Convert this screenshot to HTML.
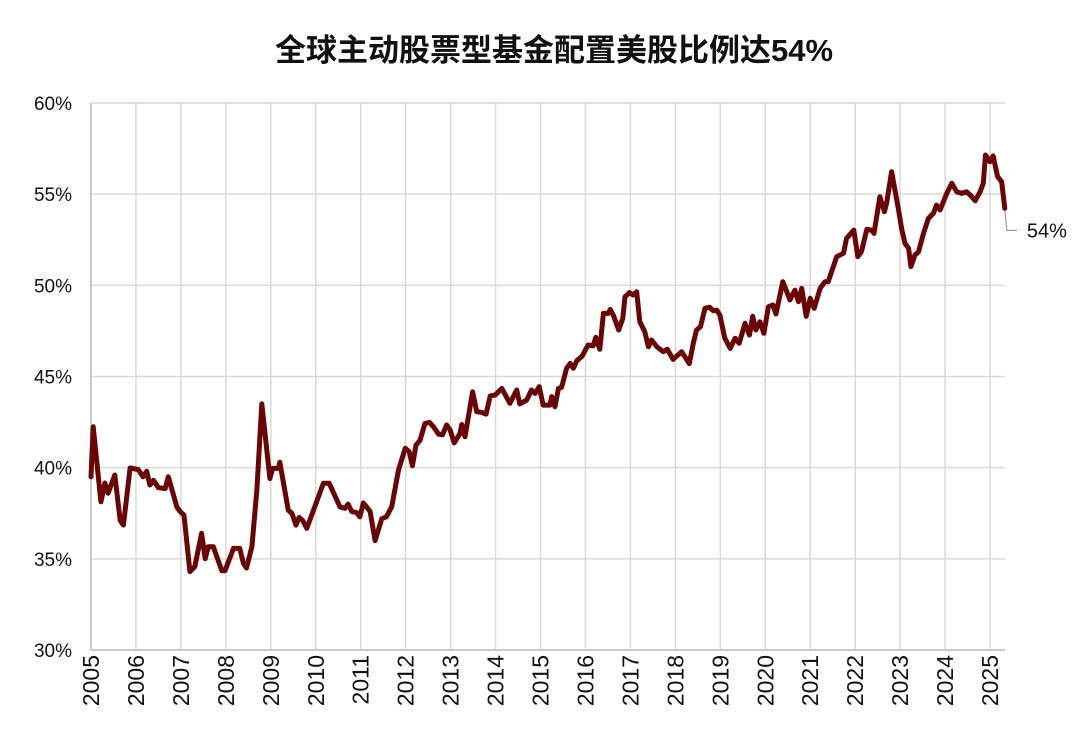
<!DOCTYPE html>
<html><head><meta charset="utf-8">
<style>
body{margin:0;background:#fff;width:1080px;height:743px;overflow:hidden;font-family:"Liberation Sans","Noto Sans CJK SC",sans-serif;}
</style></head>
<body>
<svg id="chart" width="1080" height="743" xmlns="http://www.w3.org/2000/svg">
<text x="554" y="61" text-anchor="middle" font-size="31" font-weight="bold" fill="#111" font-family="Liberation Sans, Noto Sans CJK SC, sans-serif">全球主动股票型基金配置美股比例达54%</text>
<g id="grid"></g>
<g id="axes"></g>
<g id="series"></g>
</svg>
<script>
const yTicks=[30,35,40,45,50,55,60];
const xYears=[2005,2006,2007,2008,2009,2010,2011,2012,2013,2014,2015,2016,2017,2018,2019,2020,2021,2022,2023,2024,2025];
const yearOffsets=[0,0.05,0.22,0.31,0.38,0.53,0.65,0.72,0.87,1.05,1.16,1.24,1.31,1.39,1.50,1.65,1.72,1.91,1.98,2.07,2.20,2.31,2.46,2.54,2.61,2.72,2.91,2.98,3.17,3.31,3.39,3.46,3.58,3.69,3.80,3.98,4.04,4.17,4.20,4.39,4.47,4.56,4.63,4.71,4.80,5.17,5.30,5.54,5.65,5.72,5.80,5.91,5.98,6.06,6.21,6.32,6.47,6.57,6.69,6.84,6.99,7.08,7.15,7.23,7.32,7.43,7.53,7.62,7.73,7.82,7.91,7.99,8.08,8.21,8.25,8.32,8.49,8.58,8.69,8.79,8.88,8.99,9.14,9.32,9.47,9.54,9.69,9.80,9.88,9.97,10.06,10.21,10.25,10.32,10.40,10.47,10.58,10.66,10.73,10.81,10.92,11.06,11.17,11.23,11.32,11.40,11.51,11.55,11.62,11.74,11.83,11.88,11.98,12.06,12.14,12.21,12.32,12.40,12.47,12.59,12.73,12.82,12.95,13.14,13.21,13.31,13.40,13.47,13.56,13.66,13.76,13.84,13.92,13.99,14.10,14.22,14.33,14.42,14.55,14.65,14.72,14.79,14.88,14.97,15.07,15.17,15.24,15.39,15.55,15.66,15.74,15.81,15.91,16.00,16.09,16.22,16.33,16.40,16.59,16.74,16.81,16.97,17.06,17.14,17.26,17.37,17.42,17.55,17.65,17.70,17.81,17.96,18.04,18.11,18.19,18.24,18.33,18.41,18.52,18.63,18.74,18.81,18.89,19.04,19.15,19.26,19.37,19.48,19.56,19.67,19.78,19.85,19.90,20.00,20.07,20.17,20.26,20.33];
const shares=[39.5,42.24,38.13,39.16,38.6,39.6,37.1,36.85,39.98,39.9,39.5,39.8,39.05,39.3,38.9,38.86,39.5,37.85,37.6,37.4,34.3,34.57,36.4,35.0,35.66,35.66,34.35,34.35,35.57,35.57,34.75,34.5,35.66,38.8,43.5,39.4,39.96,39.96,40.3,37.67,37.5,36.85,37.27,37.1,36.67,39.14,39.14,37.85,37.77,38.0,37.6,37.53,37.3,38.07,37.6,36.0,37.2,37.3,37.85,39.87,41.06,40.87,40.1,41.24,41.5,42.43,42.48,42.24,41.84,41.8,42.34,42.06,41.36,41.88,42.37,41.7,44.16,43.07,43.03,42.94,43.93,43.98,44.35,43.53,44.26,43.5,43.7,44.26,44.07,44.44,43.43,43.43,43.9,43.34,44.35,44.4,45.45,45.72,45.45,45.87,46.1,46.73,46.68,47.15,46.49,48.46,48.46,48.68,48.37,47.55,48.19,49.37,49.6,49.47,49.65,48.0,47.45,46.63,47.0,46.63,46.36,46.49,45.94,46.36,46.09,45.7,46.82,47.55,47.73,48.74,48.8,48.61,48.64,48.37,47.1,46.54,47.1,46.82,47.92,47.27,48.3,47.55,48.0,47.37,48.83,48.92,48.43,50.2,49.2,49.74,49.1,49.83,48.3,49.29,48.74,49.83,50.2,50.2,51.57,51.76,52.58,53.03,51.57,51.84,53.07,53.03,52.85,54.86,54.04,54.5,56.23,54.22,53.03,52.3,52.03,51.02,51.66,51.84,52.85,53.67,53.95,54.4,54.13,55.05,55.6,55.13,55.05,55.13,54.95,54.64,55.13,55.6,57.15,56.78,57.1,55.96,55.68,54.22];
const lastLabel="54%";
const NS="http://www.w3.org/2000/svg";
const L=91,R=1005,T=103,B=650,pxYear=44.95;
const xS=o=>L+o*pxYear;
const yS=v=>B-(v-30)/30*(B-T);
function mk(tag,attrs,parent){const e=document.createElementNS(NS,tag);for(const k in attrs)e.setAttribute(k,attrs[k]);parent.appendChild(e);return e;}
const grid=document.getElementById('grid'),axes=document.getElementById('axes'),series=document.getElementById('series');
yTicks.forEach(v=>{
  const ln=mk('line',{x1:L,x2:R,y1:yS(v),y2:yS(v),stroke:'#d9d9d9','stroke-width':1.5},grid);
  
  
  const t=mk('text',{x:72,y:yS(v)+7,'text-anchor':'end','font-size':19,fill:'#111'},axes);
  t.textContent=v+'%';
  
  
});
xYears.forEach(y=>{
  const x=xS(y-2005);
  const ln=mk('line',{x1:x,x2:x,y1:T,y2:B,stroke:'#d9d9d9','stroke-width':1.5},grid);
  
  
  const t=mk('text',{x:0,y:0,'text-anchor':'end','font-size':23,fill:'#111',transform:`translate(${x+8},${B+5}) rotate(-90)`},axes);
  t.textContent=y;
  
  
});
const ax=mk('line',{x1:L,x2:L,y1:T,y2:B,stroke:'#bfbfbf','stroke-width':1.5},axes);


const bx=mk('line',{x1:L,x2:R,y1:B,y2:B,stroke:'#bfbfbf','stroke-width':1.5},axes);


const d=yearOffsets.map((o,i)=>(i?'L':'M')+xS(o).toFixed(1)+','+yS(shares[i]).toFixed(1)).join(' ');
const p=mk('path',{d:d,fill:'none',stroke:'#6b0505','stroke-width':5,'stroke-linejoin':'round','stroke-linecap':'round'},series);


const lx=xS(yearOffsets[yearOffsets.length-1]),ly=yS(shares[shares.length-1]);
const ld=mk('path',{d:`M${lx},${ly+2} L${lx+2},${ly+22} L${lx+12},${ly+22}`,fill:'none',stroke:'#999','stroke-width':1.2},series);


const lt=mk('text',{x:lx+22,y:ly+29,'font-size':20,fill:'#111'},series);
lt.textContent=lastLabel;


</script>
</body></html>
